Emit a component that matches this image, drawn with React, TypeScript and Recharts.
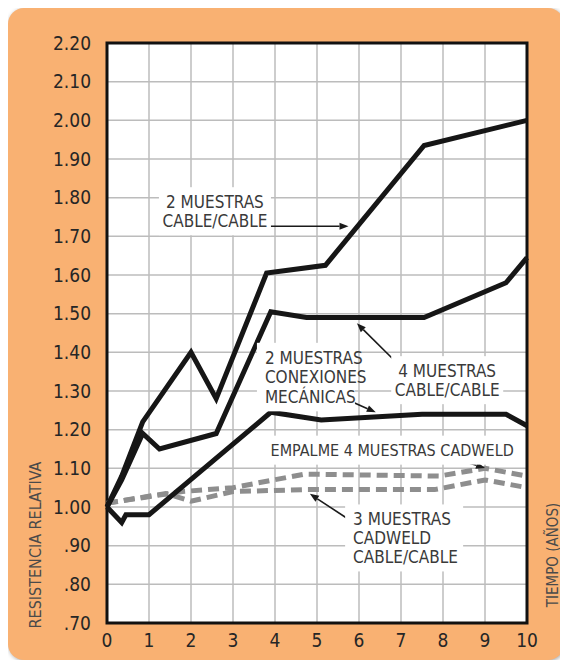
import React from "react";
import {
  LineChart,
  Line,
  XAxis,
  YAxis,
  CartesianGrid,
  ReferenceArea,
  ReferenceDot,
  ReferenceLine,
} from "recharts";

// ---- data ----
const xTicks = [0, 1, 2, 3, 4, 5, 6, 7, 8, 9, 10];
const yTicks = [0.7, 0.8, 0.9, 1.0, 1.1, 1.2, 1.3, 1.4, 1.5, 1.6, 1.7, 1.8, 1.9, 2.0, 2.1, 2.2];
const yTickLabels = [".70", ".80", ".90", "1.00", "1.10", "1.20", "1.30", "1.40", "1.50", "1.60", "1.70", "1.80", "1.90", "2.00", "2.10", "2.20"];

// 2 muestras cable/cable
const cable2 = [
  { t: 0, v: 1.0 },
  { t: 0.35, v: 1.08 },
  { t: 0.85, v: 1.22 },
  { t: 2.0, v: 1.4 },
  { t: 2.6, v: 1.28 },
  { t: 3.8, v: 1.605 },
  { t: 5.2, v: 1.625 },
  { t: 7.55, v: 1.935 },
  { t: 10, v: 2.0 },
];
// 4 muestras cable/cable
const cable4 = [
  { t: 0, v: 1.0 },
  { t: 0.35, v: 1.07 },
  { t: 0.85, v: 1.19 },
  { t: 1.25, v: 1.15 },
  { t: 2.6, v: 1.19 },
  { t: 3.9, v: 1.505 },
  { t: 4.75, v: 1.49 },
  { t: 7.55, v: 1.49 },
  { t: 9.5, v: 1.58 },
  { t: 10, v: 1.645 },
];
// 2 muestras conexiones mecanicas
const mecanicas = [
  { t: 0, v: 1.0 },
  { t: 0.35, v: 0.96 },
  { t: 0.45, v: 0.98 },
  { t: 1.0, v: 0.98 },
  { t: 3.9, v: 1.245 },
  { t: 5.1, v: 1.225 },
  { t: 7.5, v: 1.24 },
  { t: 9.5, v: 1.24 },
  { t: 10, v: 1.21 },
];
// empalme 4 muestras cadweld
const empalme = [
  { t: 0, v: 1.01 },
  { t: 1.8, v: 1.04 },
  { t: 3.0, v: 1.05 },
  { t: 4.7, v: 1.085 },
  { t: 7.9, v: 1.08 },
  { t: 9.0, v: 1.1 },
  { t: 10, v: 1.08 },
];
// 3 muestras cadweld cable/cable
const cadweld3 = [
  { t: 0, v: 1.01 },
  { t: 1.4, v: 1.035 },
  { t: 2.0, v: 1.015 },
  { t: 3.0, v: 1.04 },
  { t: 4.7, v: 1.045 },
  { t: 7.8, v: 1.045 },
  { t: 9.0, v: 1.07 },
  { t: 10, v: 1.05 },
];

const labelTexts1 = ["2 MUESTRAS", "CABLE/CABLE"];
const labelTexts2 = ["2 MUESTRAS", "CONEXIONES", "MECÁNICAS"];
const labelTexts3 = ["4 MUESTRAS", "CABLE/CABLE"];
const labelTexts4 = ["EMPALME 4 MUESTRAS CADWELD"];
const labelTexts5 = ["3 MUESTRAS", "CADWELD", "CABLE/CABLE"];

// ---- styling ----
const FONT = '"Liberation Sans Narrow", "DejaVu Sans Condensed", "Arial Narrow", sans-serif';
const TEXT = "#3a3a3a";
const ORANGE = "#F9B172";

const makeLabel =
  (lines: string[], align: "middle" | "start", fs: number, lh: number, boxW: number) =>
  (props: any) => {
    const { cx, cy } = props;
    const h = lines.length * lh;
    const top = cy - h / 2;
    const left = align === "middle" ? cx - boxW / 2 : cx - 8;
    return (
      <g>
        <rect x={left} y={top - 5} width={boxW} height={h + 10} fill="#fff" />
        {lines.map((s, i) => (
          <text
            key={i}
            x={cx}
            y={top + lh * i + lh / 2}
            dy="0.36em"
            textAnchor={align}
            fontFamily={FONT}
            fontSize={fs}
            fill={TEXT}
          >
            {s}
          </text>
        ))}
      </g>
    );
  };

const arrowShape = (props: any) => {
  const { x1, y1, x2, y2 } = props;
  const ang = Math.atan2(y2 - y1, x2 - x1);
  const L = 9;
  const W = 3.5;
  const bx = x2 - L * Math.cos(ang);
  const by = y2 - L * Math.sin(ang);
  const px = -Math.sin(ang) * W;
  const py = Math.cos(ang) * W;
  return (
    <g>
      <line x1={x1} y1={y1} x2={bx} y2={by} stroke="#1a1a1a" strokeWidth={1.6} />
      <polygon points={`${x2},${y2} ${bx + px},${by + py} ${bx - px},${by - py}`} fill="#1a1a1a" />
    </g>
  );
};

const YLabel = (props: any) => {
  const { viewBox } = props;
  const x = viewBox.x - 12;
  const y = viewBox.y + viewBox.height - 78;
  return (
    <text
      x={x}
      y={y}
      transform={`rotate(-90 ${x} ${y})`}
      textAnchor="middle"
      dy="0.36em"
      fontFamily={FONT}
      fontSize={16}
      fill="#4a4a4a"
    >
      RESISTENCIA RELATIVA
    </text>
  );
};

const XLabel = (props: any) => {
  const { viewBox } = props;
  const x = viewBox.x + viewBox.width + 26;
  const y = viewBox.y - 68;
  return (
    <text
      x={x}
      y={y}
      transform={`rotate(-90 ${x} ${y})`}
      textAnchor="middle"
      dy="0.36em"
      fontFamily={FONT}
      fontSize={15}
      fill="#4a4a4a"
    >
      TIEMPO (AÑOS)
    </text>
  );
};

const tickStyle = { fontFamily: FONT, fontSize: 19, fill: "#262626" };

export default function App() {
  return (
    <div
      style={{
        width: 556,
        height: 652,
        background: ORANGE,
        borderRadius: 16,
        boxShadow: "1px 1px 4px rgba(0,0,0,0.35)",
      }}
    >
      <LineChart width={556} height={652} margin={{ top: 35, right: 37, bottom: 7, left: 39 }}>
        <CartesianGrid stroke="#bcbcbc" strokeWidth={1.5} fill="#ffffff" />
        <XAxis
          type="number"
          dataKey="t"
          domain={[0, 10]}
          ticks={xTicks}
          interval={0}
          axisLine={false}
          tickLine={false}
          tickSize={0}
          tickMargin={11}
          height={30}
          tick={tickStyle}
          label={<XLabel />}
        />
        <YAxis
          type="number"
          dataKey="v"
          domain={[0.7, 2.2]}
          ticks={yTicks}
          interval={0}
          axisLine={false}
          tickLine={false}
          tickSize={0}
          tickMargin={16}
          width={60}
          tick={tickStyle}
          tickFormatter={(v: number) => yTickLabels[yTicks.findIndex((t) => Math.abs(t - v) < 1e-6)] ?? ""}
          label={<YLabel />}
        />

        <ReferenceDot x={2.57} y={1.765} r={0} shape={makeLabel(labelTexts1, "middle", 17, 19, 112)} />
        <ReferenceDot x={3.76} y={1.336} r={0} shape={makeLabel(labelTexts2, "start", 17, 19.5, 98)} />
        <ReferenceDot x={8.1} y={1.328} r={0} shape={makeLabel(labelTexts3, "middle", 17, 19, 112)} />
        <ReferenceDot x={6.79} y={1.147} r={0} shape={makeLabel(labelTexts4, "middle", 16, 19, 248)} />
        <ReferenceDot x={5.86} y={0.92} r={0} shape={makeLabel(labelTexts5, "start", 17, 19, 118)} />

        <Line data={empalme} dataKey="v" stroke="#8e8e8e" strokeWidth={5} strokeDasharray="11 6" dot={false} isAnimationActive={false} />
        <Line data={cadweld3} dataKey="v" stroke="#8e8e8e" strokeWidth={5} strokeDasharray="11 6" dot={false} isAnimationActive={false} />
        <Line data={mecanicas} dataKey="v" stroke="#161616" strokeWidth={5} dot={false} isAnimationActive={false} />
        <Line data={cable4} dataKey="v" stroke="#161616" strokeWidth={5} dot={false} isAnimationActive={false} />
        <Line data={cable2} dataKey="v" stroke="#161616" strokeWidth={5} dot={false} isAnimationActive={false} />

        <ReferenceLine segment={[{ x: 3.88, y: 1.726 }, { x: 5.75, y: 1.726 }]} shape={arrowShape} />
        <ReferenceLine segment={[{ x: 5.79, y: 1.274 }, { x: 6.4, y: 1.245 }]} shape={arrowShape} />
        <ReferenceLine segment={[{ x: 6.88, y: 1.375 }, { x: 5.95, y: 1.475 }]} shape={arrowShape} />
        <ReferenceLine segment={[{ x: 8.21, y: 1.127 }, { x: 9.0, y: 1.101 }]} shape={arrowShape} />
        <ReferenceLine segment={[{ x: 5.74, y: 0.969 }, { x: 4.83, y: 1.034 }]} shape={arrowShape} />

        <ReferenceArea x1={0} x2={10} y1={0.7} y2={2.2} fill="none" fillOpacity={0} stroke="#111111" strokeWidth={3} />
      </LineChart>
    </div>
  );
}
